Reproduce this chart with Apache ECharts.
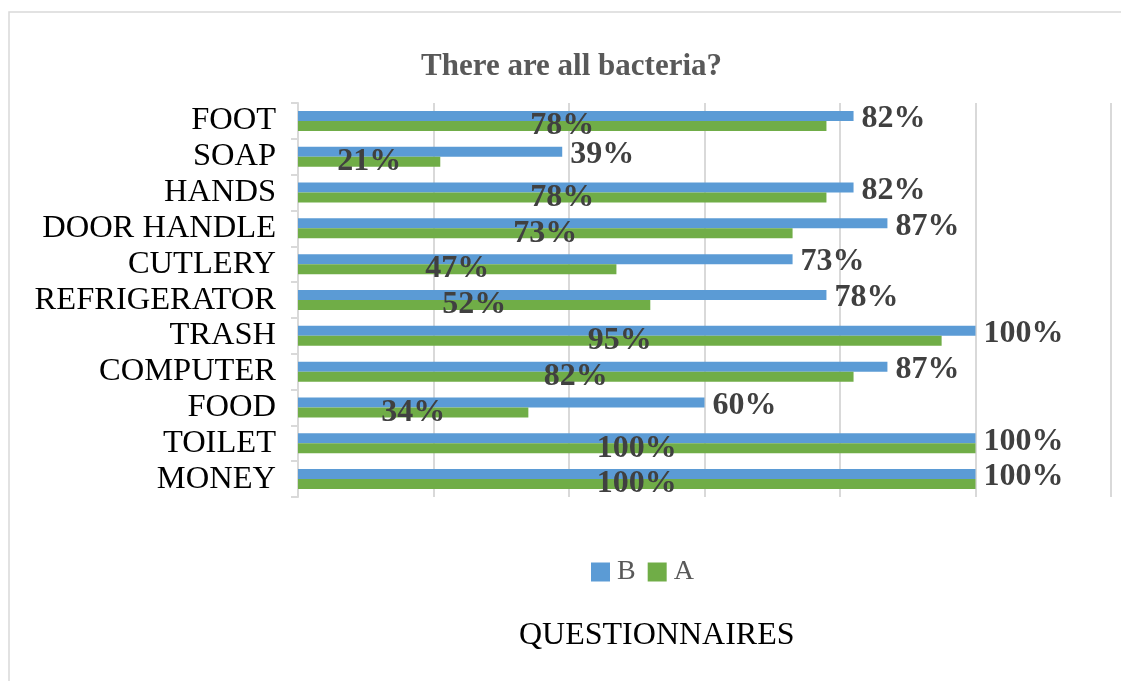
<!DOCTYPE html>
<html>
<head>
<meta charset="utf-8">
<script src="https://cdn.jsdelivr.net/npm/echarts@6/dist/echarts.min.js"></script>
<style>
  html, body { margin: 0; padding: 0; background: #fff; }
  #chart { width: 1121px; height: 681px; }
</style>
</head>
<body>
<div id="chart"></div>
<script>
// categories bottom -> top
const categories = ['MONEY', 'TOILET', 'FOOD', 'COMPUTER', 'TRASH', 'REFRIGERATOR', 'CUTLERY', 'DOOR HANDLE', 'HANDS', 'SOAP', 'FOOT']
const valuesB = [100, 100, 60, 87, 100, 78, 73, 87, 82, 39, 82]
const valuesA = [100, 100, 34, 82, 95, 52, 47, 73, 78, 21, 78]
const xTicks = [0, 20, 40, 60, 80, 100, 120]

const serif = '"Liberation Serif", "Times New Roman", serif'

const chart = echarts.init(document.getElementById('chart'))

chart.setOption({
  animation: false,
  graphic: [{
    type: 'rect',
    shape: { x: 9, y: 12, width: 1200, height: 720 },
    style: { fill: 'none', stroke: '#d9d9d9', lineWidth: 1.5 }
  }],
  title: [
    {
      text: 'There are all bacteria?',
      left: 416,
      top: 46,
      textStyle: { fontFamily: serif, fontSize: 31, fontWeight: 'bold', color: '#595959' }
    },
    {
      text: 'QUESTIONNAIRES',
      left: 514,
      top: 615,
      textStyle: { fontFamily: serif, fontSize: 32, fontWeight: 'normal', color: '#000' }
    }
  ],
  legend: {
    data: ['B', 'A'],
    left: 586,
    top: 553,
    itemWidth: 19,
    itemHeight: 19,
    itemGap: 12,
    icon: 'rect',
    textStyle: { fontFamily: serif, fontSize: 28, color: '#595959', padding: [0, 0, 0, 2] }
  },
  grid: {
    left: 298,
    right: 10,
    top: 103,
    bottom: 184
  },
  xAxis: {
    type: 'value',
    min: xTicks[0],
    max: xTicks[xTicks.length - 1],
    interval: 20,
    axisLabel: { show: false },
    axisLine: { show: false },
    axisTick: { show: false },
    splitLine: { lineStyle: { color: '#d9d9d9', width: 2 } }
  },
  yAxis: {
    type: 'category',
    data: categories,
    axisLine: { lineStyle: { color: '#d9d9d9', width: 2 } },
    axisTick: { show: true, length: 7, lineStyle: { color: '#d9d9d9', width: 2 } },
    axisLabel: { interval: 0, fontFamily: serif, fontSize: 32.5, color: '#000', margin: 22 }
  },
  series: [
    {
      name: 'B',
      type: 'bar',
      data: valuesB,
      barWidth: 10,
      barGap: '0%',
      itemStyle: { color: '#5B9BD5' },
      label: {
        show: true,
        position: 'right',
        distance: 8,
        offset: [0, 3],
        formatter: '{c}%',
        fontFamily: serif,
        fontSize: 32,
        fontWeight: 'bold',
        color: '#404040'
      }
    },
    {
      name: 'A',
      type: 'bar',
      data: valuesA,
      barWidth: 10,
      barGap: '0%',
      itemStyle: { color: '#70AD47' },
      label: {
        show: true,
        position: 'inside',
        formatter: '{c}%',
        fontFamily: serif,
        fontSize: 32,
        fontWeight: 'bold',
        color: '#404040'
      }
    }
  ]
})
</script>
</body>
</html>
